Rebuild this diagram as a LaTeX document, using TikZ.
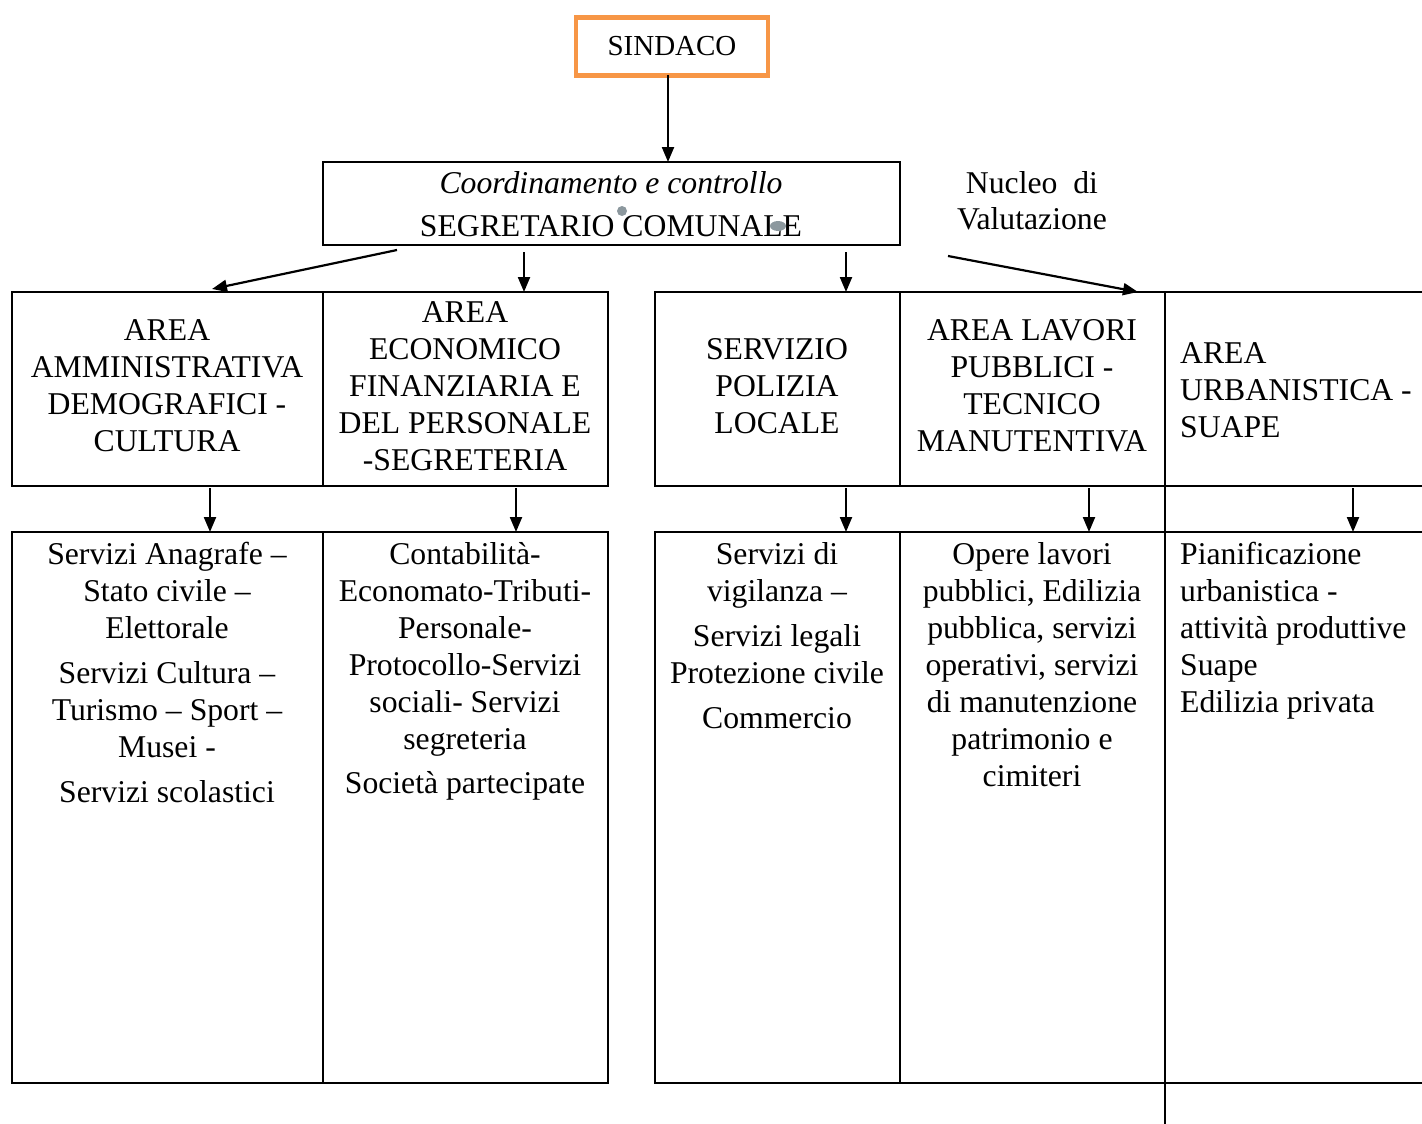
\documentclass[tikz,border=0pt]{standalone}
\usepackage{fontspec}
\setmainfont{Liberation Serif}
\usetikzlibrary{arrows.meta}
\definecolor{sindacoorange}{RGB}{247,150,70}
\definecolor{handlegrey}{RGB}{140,152,158}
\begin{document}
\begin{tikzpicture}[x=1pt,y=-1pt,
  boxshape/.style={draw=black,line width=2.2pt,rectangle,anchor=north west,inner sep=0pt,outer sep=0pt},
  openshape/.style={draw=none,rectangle,anchor=north west,inner sep=0pt,outer sep=0pt},
  txt/.style={font=\fontsize{31.7}{37}\selectfont,align=center,inner sep=0pt},
  txtl/.style={font=\fontsize{31.7}{37}\selectfont,align=left,inner sep=0pt},
  arr/.style={line width=2.2pt,-{Triangle[length=15pt,width=12pt]}},
  rule/.style={line width=2.2pt}]
\useasboundingbox (0,0) rectangle (1422,1124);

% top
\node[draw=sindacoorange,line width=4.5pt,minimum width=192pt,minimum height=58pt,inner sep=0pt,outer sep=0pt,
      font=\fontsize{29}{34}\selectfont] (sindaco) at (672,46.5) {SINDACO};
\node[boxshape,minimum width=577pt,minimum height=83pt] (coord) at (323,162) {};
\node[txt] (coordt) at (611,183) {\itshape Coordinamento e controllo};
\node[txt] (segr) at (611,226) {SEGRETARIO COMUNALE};
\fill[handlegrey] (622,211) circle (5pt);
\fill[handlegrey] (778,226) ellipse (8pt and 5pt);
\node[txt,font=\fontsize{31.7}{36}\selectfont] (nucleo) at (1032,201) {Nucleo\ \ di\\Valutazione};

% row 1 boxes
\node[boxshape,minimum width=311pt,minimum height=194pt] (a1) at (12,292) {};
\node[boxshape,minimum width=285pt,minimum height=194pt] (a2) at (323,292) {};
\node[boxshape,minimum width=245pt,minimum height=194pt] (a3) at (655,292) {};
\node[boxshape,minimum width=265pt,minimum height=194pt] (a4) at (900,292) {};
\node[openshape,minimum width=257pt,minimum height=194pt] (a5) at (1165,292) {};
\draw[rule] (a5.north east) -- (a5.north west) -- (a5.south west) -- (a5.south east);

% row 2 boxes
\node[boxshape,minimum width=311pt,minimum height=551pt] (b1) at (12,532) {};
\node[boxshape,minimum width=285pt,minimum height=551pt] (b2) at (323,532) {};
\node[boxshape,minimum width=245pt,minimum height=551pt] (b3) at (655,532) {};
\node[boxshape,minimum width=265pt,minimum height=551pt] (b4) at (900,532) {};
\node[openshape,minimum width=257pt,minimum height=551pt] (b5) at (1165,532) {};
\coordinate (bottomend) at (1165,1124);
\draw[rule] (b5.north east) -- (b5.north west) -- (b5.south west) -- (b5.south east);
\draw[rule] (a5.south west) -- (b5.north west);
\draw[rule] (b5.south west) -- (bottomend);

% row 1 texts
\node[txt] (t1) at (167,386) {AREA\\AMMINISTRATIVA\\DEMOGRAFICI -\\CULTURA};
\node[txt] (t2) at (465,386) {AREA\\ECONOMICO\\FINANZIARIA E\\DEL PERSONALE\\-SEGRETERIA};
\node[txt] (t3) at (777,386) {SERVIZIO\\POLIZIA\\LOCALE};
\node[txt] (t4) at (1032,386) {AREA LAVORI\\PUBBLICI -\\TECNICO\\MANUTENTIVA};
\node[txtl,anchor=west] (t5) at (1180,390) {AREA\\URBANISTICA -\\SUAPE};

% row 2 texts
\node[txt,anchor=north] (s1) at (167,542) {Servizi Anagrafe –\\Stato civile –\\Elettorale\\[8pt]Servizi Cultura –\\Turismo – Sport –\\Musei -\\[8pt]Servizi scolastici};
\node[txt,anchor=north] (s2) at (465,542) {Contabilità-\\Economato-Tributi-\\Personale-\\Protocollo-Servizi\\sociali- Servizi\\segreteria\\[7pt]Società partecipate};
\node[txt,anchor=north] (s3) at (777,542) {Servizi di\\vigilanza –\\[8pt]Servizi legali\\Protezione civile\\[8pt]Commercio};
\node[txt,anchor=north] (s4) at (1032,542) {Opere lavori\\pubblici, Edilizia\\pubblica, servizi\\operativi, servizi\\di manutenzione\\patrimonio e\\cimiteri};
\node[txtl,anchor=north west] (s5) at (1180,542) {Pianificazione\\urbanistica -\\attività produttive\\Suape\\Edilizia privata};

% arrows
\coordinate (sx) at (668,75);
\draw[arr] (sx) -- (sx |- coord.north);
\coordinate (p1) at (397,250); \coordinate (q1) at (212,289);
\draw[arr] (p1) -- (q1);
\coordinate (p2) at (524,252);
\draw[arr] (p2) -- (p2 |- a2.north);
\coordinate (p3) at (846,252);
\draw[arr] (p3) -- (p3 |- a3.north);
\coordinate (p4) at (948,256); \coordinate (q4) at (1138,292);
\draw[arr] (p4) -- (q4);

\coordinate (u1) at (210,488);
\draw[arr] (u1) -- (u1 |- b1.north);
\coordinate (u2) at (516,488);
\draw[arr] (u2) -- (u2 |- b2.north);
\coordinate (u3) at (846,488);
\draw[arr] (u3) -- (u3 |- b3.north);
\coordinate (u4) at (1089,488);
\draw[arr] (u4) -- (u4 |- b4.north);
\coordinate (u5) at (1353,488);
\draw[arr] (u5) -- (u5 |- b5.north);
\end{tikzpicture}
\end{document}
